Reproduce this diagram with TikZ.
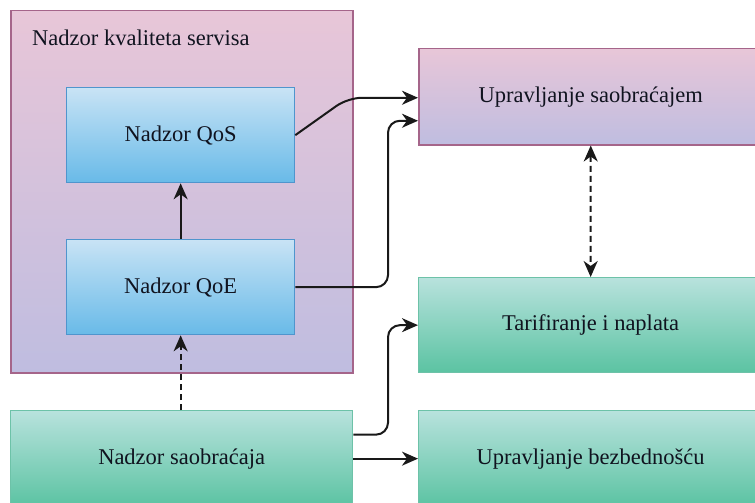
\documentclass[tikz,border=0pt]{standalone}
\usepackage{fontspec}
\setmainfont{Liberation Serif}
\usetikzlibrary{arrows.meta,calc}
\definecolor{pinkT}{HTML}{E8C6D8}
\definecolor{pinkB}{HTML}{BFBDE0}
\definecolor{pinkD}{HTML}{A5658A}
\definecolor{blueT}{HTML}{C8E3F5}
\definecolor{blueB}{HTML}{68BAE8}
\definecolor{blueD}{HTML}{4F95CD}
\definecolor{greenT}{HTML}{B8E2DD}
\definecolor{greenB}{HTML}{5BC3A2}
\definecolor{greenD}{HTML}{6DC2A8}
\definecolor{txt}{HTML}{10131F}
\tikzset{
  box/.style={rectangle, anchor=north west, inner sep=0pt, font=\fontsize{22.5}{26}\selectfont, text=txt},
  pinkbox/.style={box, draw=pinkD, line width=1.5pt, top color=pinkT, bottom color=pinkB},
  bluebox/.style={box, draw=blueD, line width=1.3pt, top color=blueT, bottom color=blueB},
  greenbox/.style={box, draw=greenD, line width=1.3pt, top color=greenT, bottom color=greenB},
  arr/.style={draw=black!90, line width=2pt, -{Stealth[length=16pt,width=14pt,inset=5pt]}},
  darr/.style={arr, dash pattern=on 6pt off 4pt},
  ddarr/.style={darr, {Stealth[length=16pt,width=14pt,inset=5pt]}-{Stealth[length=16pt,width=14pt,inset=5pt]}}
}
\begin{document}
\begin{tikzpicture}[x=1pt,y=-1pt]
\useasboundingbox (0,0) rectangle (755,503);
\clip (0,0) rectangle (755,503);
\node[pinkbox, minimum width=342pt, minimum height=362pt] (outer) at (10,10) {};
\node[anchor=west, inner sep=0pt, font=\fontsize{22.5}{26}\selectfont, text=txt] (title) at (32,38) {Nadzor kvaliteta servisa};
\node[bluebox, minimum width=228pt, minimum height=95pt] (qos) at (66,87) {Nadzor QoS};
\node[bluebox, minimum width=228pt, minimum height=95pt] (qoe) at (66,239) {Nadzor QoE};
\node[pinkbox, minimum width=344pt, minimum height=96pt] (upr) at (418,48) {Upravljanje saobraćajem};
\node[greenbox, minimum width=344pt, minimum height=95pt] (tar) at (418,277) {Tarifiranje i naplata};
\node[greenbox, minimum width=342pt, minimum height=96pt] (ns) at (10,410) {Nadzor saobraćaja};
\node[greenbox, minimum width=344pt, minimum height=96pt] (ub) at (418,410) {Upravljanje bezbednošću};
\coordinate (c1) at ($(upr.west)+(-70,1)$);
\coordinate (c2) at ($(upr.west)+(-30,24)$);
\coordinate (c3) at ($(upr.west)+(0,24)$);
\coordinate (c4) at ($(ns.east)+(0,-24)$);
\coordinate (c5) at ($(tar.west)+(-30,0)$);
\draw[arr] (qoe.north) -- (qos.south);
\draw[arr, rounded corners=14pt] (qos.east) -- (c1) -- ($(upr.west)+(0,1)$);
\draw[arr, rounded corners=12pt] (qoe.east) -| (c2) -- (c3);
\draw[arr, rounded corners=12pt] (c4) -| (c5) -- (tar.west);
\draw[arr] (ns.east) -- (ub.west);
\draw[darr] (ns.north -| qoe.south) -- (qoe.south);
\draw[ddarr] (upr.south) -- (tar.north);
\end{tikzpicture}
\end{document}
